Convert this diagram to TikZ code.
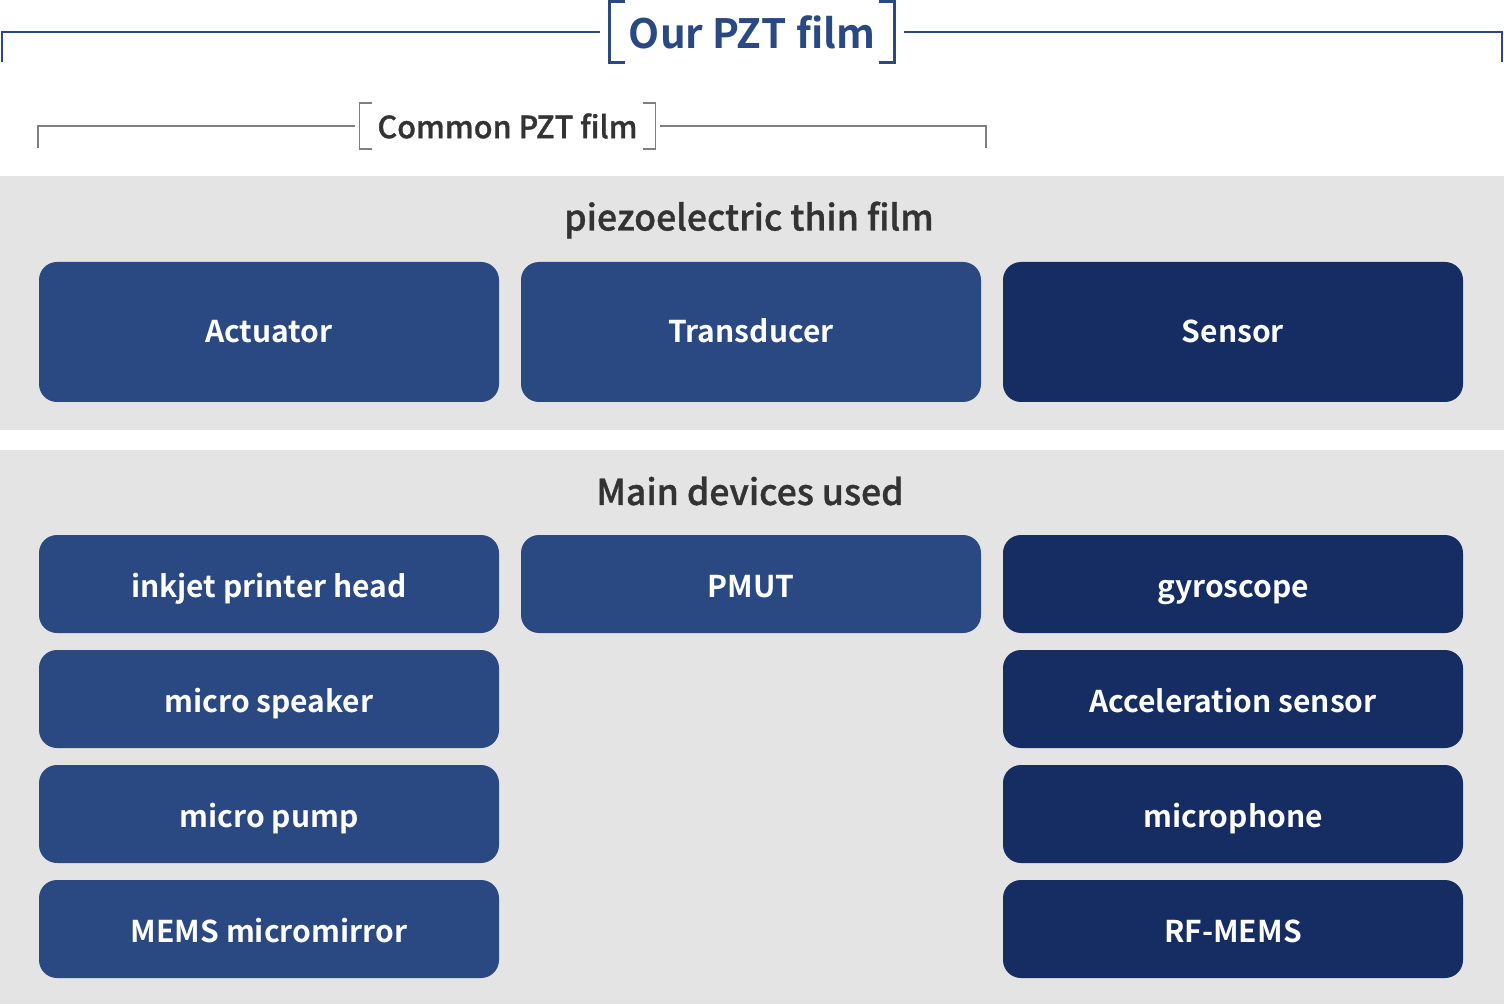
\documentclass[tikz,border=0pt]{standalone}
\usepackage{fontspec}
\setmainfont{Noto Sans CJK JP}[BoldFont={* Bold}]
\newfontfamily\medfont{Noto Sans CJK JP Medium}[FakeBold=1]
\usepackage{tikz}
\usetikzlibrary{positioning,calc}
\definecolor{midblue}{HTML}{2A4882}
\definecolor{navy}{HTML}{152D63}
\definecolor{panelgray}{HTML}{E4E4E4}
\definecolor{titletext}{HTML}{333333}
\definecolor{bracketgray}{HTML}{808080}

\begin{document}
\begin{tikzpicture}[x=0.5pt,y=-0.5pt,every node/.style={align=center},
  panel/.style={fill=panelgray,draw=none},
  paneltitle/.style={text=titletext,font=\medfont\fontsize{17.8}{21}\selectfont},
  actbox/.style={fill=midblue,text=white,rounded corners=9pt,minimum width=230pt,minimum height=70pt,inner sep=0pt,text height=11pt,text depth=0pt,font=\bfseries\fontsize{15}{18}\selectfont},
  senbox/.style={actbox,fill=navy},
  devbox/.style={actbox,minimum height=49pt,text height=13pt},
  sdevbox/.style={senbox,minimum height=49pt,text height=13pt},
  ourline/.style={draw=midblue,line width=1.2pt},
  commonline/.style={draw=bracketgray,line width=0.8pt}]
  \useasboundingbox (0,0) rectangle (1504,1005);
  % panels
  \fill[panel] (0,176) rectangle (1504,430);
  \fill[panel] (0,450) rectangle (1504,1004);
  % top bracket
  \node[minimum width=142pt,minimum height=30pt,inner sep=0pt,text=midblue,font=\bfseries\fontsize{20.2}{24}\selectfont] (our) at (752,32) {Our PZT film};
  \coordinate (ourL) at (2,62);
  \coordinate (ourR) at (1502,62);
  \draw[ourline] ([xshift=7.5pt]our.north west) -- (our.north west) -- (our.south west) -- ([xshift=7.5pt]our.south west);
  \draw[ourline] ([xshift=-7.5pt]our.north east) -- (our.north east) -- (our.south east) -- ([xshift=-7.5pt]our.south east);
  \draw[ourline] ([xshift=-5pt]our.west) -| (ourL);
  \draw[ourline] ([xshift=5pt]our.east) -| (ourR);
  % common bracket
  \node[minimum width=147.5pt,minimum height=22.5pt,inner sep=0pt,text=titletext,font=\medfont\fontsize{15.3}{18}\selectfont] (common) at (507.5,126) {Common PZT film};
  \coordinate (commonL) at (38,148);
  \coordinate (commonR) at (986,148);
  \draw[commonline] ([xshift=6pt]common.north west) -- (common.north west) -- (common.south west) -- ([xshift=6pt]common.south west);
  \draw[commonline] ([xshift=-6pt]common.north east) -- (common.north east) -- (common.south east) -- ([xshift=-6pt]common.south east);
  \draw[commonline] ([xshift=-2.5pt]common.west) -| (commonL);
  \draw[commonline] ([xshift=2.5pt]common.east) -| (commonR);
  % piezoelectric thin film
  \node[paneltitle] (piezo) at (749,220) {piezoelectric thin film};
  \node[actbox] (actuator) at (269,332) {Actuator};
  \node[actbox] (transducer) at (751,332) {Transducer};
  \node[senbox] (sensor) at (1233,332) {Sensor};
  % main devices
  \node[paneltitle] (devices) at (750,491) {Main devices used};
  \node[devbox] (inkjet) at (269,584) {inkjet printer head};
  \node[devbox] (speaker) at (269,699) {micro speaker};
  \node[devbox] (pump) at (269,814) {micro pump};
  \node[devbox] (mirror) at (269,929) {MEMS micromirror};
  \node[devbox] (pmut) at (751,584) {PMUT};
  \node[sdevbox] (gyro) at (1233,584) {gyroscope};
  \node[sdevbox] (accel) at (1233,699) {Acceleration sensor};
  \node[sdevbox] (micro) at (1233,814) {microphone};
  \node[sdevbox] (rfmems) at (1233,929) {RF-MEMS};
\end{tikzpicture}
\end{document}
